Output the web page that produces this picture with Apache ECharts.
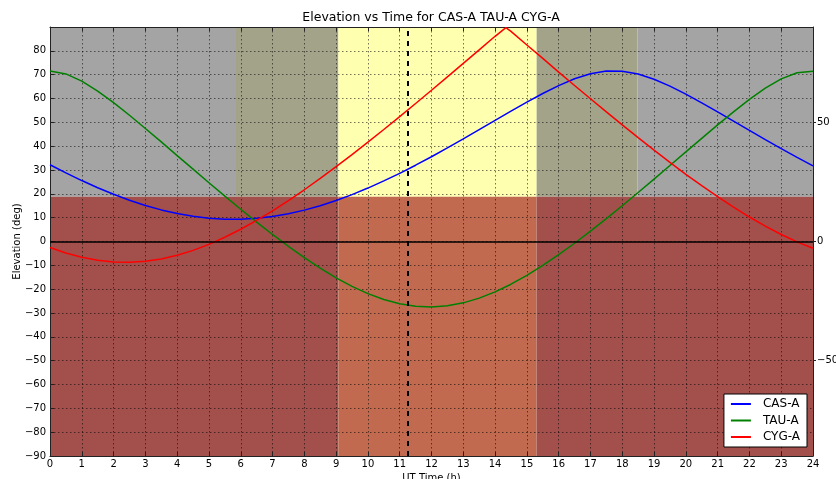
<!DOCTYPE html>
<html>
<head>
<meta charset="utf-8">
<script src="https://cdn.jsdelivr.net/npm/echarts@6/dist/echarts.min.js"></script>
<style>
  html, body { margin: 0; padding: 0; background: #ffffff; }
  #chart { width: 836px; height: 479px; }
</style>
</head>
<body>
<div id="chart"></div>
<script>
// Elevation of three radio sources over one UT day.
const halfHours = [0, 0.5, 1, 1.5, 2, 2.5, 3, 3.5, 4, 4.5, 5, 5.5, 6, 6.5, 7, 7.5, 8, 8.5, 9, 9.5, 10, 10.5,
                   11, 11.5, 12, 12.5, 13, 13.5, 14, 14.5, 15, 15.5, 16, 16.5, 17, 17.5, 18, 18.5, 19, 19.5,
                   20, 20.5, 21, 21.5, 22, 22.5, 23, 23.5, 24];
const casA = [32.19, 28.79, 25.57, 22.57, 19.81, 17.33, 15.14, 13.26, 11.74, 10.57, 9.78, 9.37, 9.36, 9.75,
              10.52, 11.67, 13.17, 15.03, 17.20, 19.67, 22.42, 25.41, 28.61, 32.01, 35.57, 39.27, 43.06,
              46.92, 50.81, 54.68, 58.47, 62.10, 65.42, 68.27, 70.40, 71.55, 71.48, 70.26, 68.06, 65.17,
              61.82, 58.18, 54.37, 50.51, 46.62, 42.76, 38.97, 35.28, 31.74];
const tauA = [71.53, 70.31, 67.31, 63.13, 58.25, 52.96, 47.43, 41.78, 36.06, 30.35, 24.67, 19.05, 13.53, 8.16,
              2.95, -2.05, -6.77, -11.19, -15.24, -18.82, -21.88, -24.35, -26.13, -27.19, -27.48, -26.99,
              -25.74, -23.76, -21.12, -17.92, -14.18, -10.05, -5.54, -0.73, 4.32, 9.58, 15.00, 20.54, 26.18,
              31.87, 37.59, 43.28, 48.91, 54.39, 59.60, 64.32, 68.25, 70.83, 71.48];
const cygTimes = [0, 0.5, 1, 1.5, 2, 2.5, 3, 3.5, 4, 4.5, 5, 5.5, 6, 6.5, 7, 7.5, 8, 8.5, 9, 9.5, 10, 10.5,
                  11, 11.5, 12, 12.5, 13, 13.5, 14, 14.34, 14.5, 15, 15.5, 16, 16.5, 17, 17.5, 18, 18.5,
                  19, 19.5, 20, 20.5, 21, 21.5, 22, 22.5, 23, 23.5, 24];
const cygA = [-2.54, -4.83, -6.63, -7.90, -8.61, -8.75, -8.32, -7.33, -5.79, -3.73, -1.20, 1.78, 5.14, 8.85,
              12.87, 17.18, 21.71, 26.45, 31.38, 36.45, 41.66, 46.98, 52.40, 57.89, 63.45, 69.07, 74.72,
              80.41, 86.10, 89.77, 88.16, 82.45, 76.85, 71.09, 65.47, 59.89, 54.36, 48.91, 43.56, 38.31,
              33.19, 28.20, 23.40, 18.78, 14.40, 10.27, 6.44, 2.95, -0.17, -2.86];

// Sky conditions over the day (UT hours) and the elevation limit.
const nightSpans = [[0, 5.85], [18.48, 24]];
const twilightSpans = [[5.85, 9.07], [15.30, 18.48]];
const daySpans = [[9.07, 15.30]];
const darkSpans = [[0, 9.07], [15.30, 24]];
const elevationLimit = 18.8;
const currentTime = 11.26;

const xTicks = [0, 1, 2, 3, 4, 5, 6, 7, 8, 9, 10, 11, 12, 13, 14, 15, 16, 17, 18, 19, 20, 21, 22, 23, 24];
const leftTicks = [-90, -80, -70, -60, -50, -40, -30, -20, -10, 0, 10, 20, 30, 40, 50, 60, 70, 80];
const rightTicks = [-50, 0, 50];

const FONT = 'DejaVu Sans';
// night, twilight, day, below limit (dark), below limit (day)
const fills = ['#a4a4a4', '#a3a38a', '#ffffb0', '#a3504c', '#c16a50'];

// rectangles: [x0, x1, y0, y1, fill index]
const bands = [];
nightSpans.forEach(s => bands.push([s[0], s[1], elevationLimit, 90, 0]));
twilightSpans.forEach(s => bands.push([s[0], s[1], elevationLimit, 90, 1]));
daySpans.forEach(s => bands.push([s[0], s[1], elevationLimit, 90, 2]));
darkSpans.forEach(s => bands.push([s[0], s[1], -90, elevationLimit, 3]));
daySpans.forEach(s => bands.push([s[0], s[1], -90, elevationLimit, 4]));

const minusFmt = v => (v < 0 ? '\u2212' + (-v) : String(v));
const gridLine = { show: true, lineStyle: { color: 'rgba(0,0,0,0.55)', width: 1, type: [1.5, 2.5] } };
const frameLine = { show: true, onZero: false, lineStyle: { color: '#222', width: 1 } };

const chart = echarts.init(document.getElementById('chart'), null, { renderer: 'canvas' });
chart.setOption({
  animation: false,
  backgroundColor: '#ffffff',
  title: {
    text: 'Elevation vs Time for CAS-A TAU-A CYG-A',
    left: 431, top: 11, padding: 0, textAlign: 'center',
    textStyle: { fontFamily: FONT, fontSize: 12.5, fontWeight: 'normal', color: '#000' }
  },
  legend: {
    data: ['CAS-A', 'TAU-A', 'CYG-A'],
    orient: 'vertical',
    right: 29, top: 394,
    padding: [4, 7, 4, 7],
    itemGap: 4.5,
    icon: 'rect',
    itemWidth: 20, itemHeight: 2,
    backgroundColor: '#ffffff',
    borderColor: '#000', borderWidth: 1,
    textStyle: { fontFamily: FONT, fontSize: 12, color: '#000', padding: [0, 0, 0, 7] }
  },
  grid: { left: 50, right: 23, top: 27, bottom: 23, containLabel: false, outerBoundsMode: 'none' },
  xAxis: [
    {
      type: 'value', min: 0, max: 24, interval: 1, position: 'bottom', z: 2,
      name: 'UT Time (h)', nameLocation: 'middle', nameGap: 17, nameMoveOverlap: false,
      nameTextStyle: { fontFamily: FONT, fontSize: 10, color: '#000', verticalAlign: 'top' },
      axisLine: frameLine,
      axisTick: { show: true, inside: true, length: 4, customValues: xTicks, lineStyle: { color: '#222' } },
      axisLabel: { fontFamily: FONT, fontSize: 10, color: '#000', margin: 3, customValues: xTicks },
      splitLine: gridLine
    },
    {
      type: 'value', min: 0, max: 24, interval: 1, position: 'top', z: 2,
      axisLine: frameLine,
      axisTick: { show: true, inside: true, length: 4, lineStyle: { color: '#222' } },
      axisLabel: { show: false },
      splitLine: { show: false }
    }
  ],
  yAxis: [
    {
      type: 'value', min: -90, max: 90, interval: 10, position: 'left', z: 2,
      name: 'Elevation (deg)', nameLocation: 'middle', nameGap: 28, nameRotate: 90, nameMoveOverlap: false,
      nameTextStyle: { fontFamily: FONT, fontSize: 10, color: '#000' },
      axisLine: frameLine,
      axisTick: { show: true, inside: true, length: 4, customValues: leftTicks, lineStyle: { color: '#222' } },
      axisLabel: { fontFamily: FONT, fontSize: 10, color: '#000', margin: 4, customValues: leftTicks, formatter: minusFmt },
      splitLine: gridLine
    },
    {
      type: 'value', min: -90, max: 90, interval: 10, position: 'right', z: 2,
      axisLine: frameLine,
      axisTick: { show: true, inside: false, length: 3, customValues: rightTicks, lineStyle: { color: '#222' } },
      axisLabel: { fontFamily: FONT, fontSize: 10, color: '#000', margin: 4, customValues: rightTicks, formatter: minusFmt },
      splitLine: { show: false }
    }
  ],
  series: [
    {
      name: 'sky',
      type: 'custom',
      z: 1,
      silent: true,
      clip: true,
      encode: { x: [0, 1], y: [2, 3] },
      data: bands,
      renderItem: (params, api) => {
        const p0 = api.coord([api.value(0), api.value(3)]);
        const p1 = api.coord([api.value(1), api.value(2)]);
        return {
          type: 'rect',
          shape: { x: p0[0], y: p0[1], width: p1[0] - p0[0], height: p1[1] - p0[1] },
          style: { fill: fills[api.value(4)] }
        };
      }
    },
    {
      name: 'guides',
      type: 'line',
      z: 3,
      data: [],
      silent: true,
      markLine: {
        silent: true, symbol: 'none', label: { show: false },
        data: [
          { yAxis: 0, lineStyle: { color: '#000', width: 1.5, type: 'solid' } },
          { xAxis: currentTime, lineStyle: { color: '#000', width: 2, type: [5, 5] } }
        ]
      }
    },
    {
      name: 'CAS-A', type: 'line', z: 4, symbol: 'none',
      lineStyle: { color: '#0000ff', width: 1.5 }, itemStyle: { color: '#0000ff' },
      data: halfHours.map((h, i) => [h, casA[i]])
    },
    {
      name: 'TAU-A', type: 'line', z: 4, symbol: 'none',
      lineStyle: { color: '#008000', width: 1.5 }, itemStyle: { color: '#008000' },
      data: halfHours.map((h, i) => [h, tauA[i]])
    },
    {
      name: 'CYG-A', type: 'line', z: 4, symbol: 'none',
      lineStyle: { color: '#ff0000', width: 1.5 }, itemStyle: { color: '#ff0000' },
      data: cygTimes.map((h, i) => [h, cygA[i]])
    }
  ]
});
</script>
</body>
</html>
